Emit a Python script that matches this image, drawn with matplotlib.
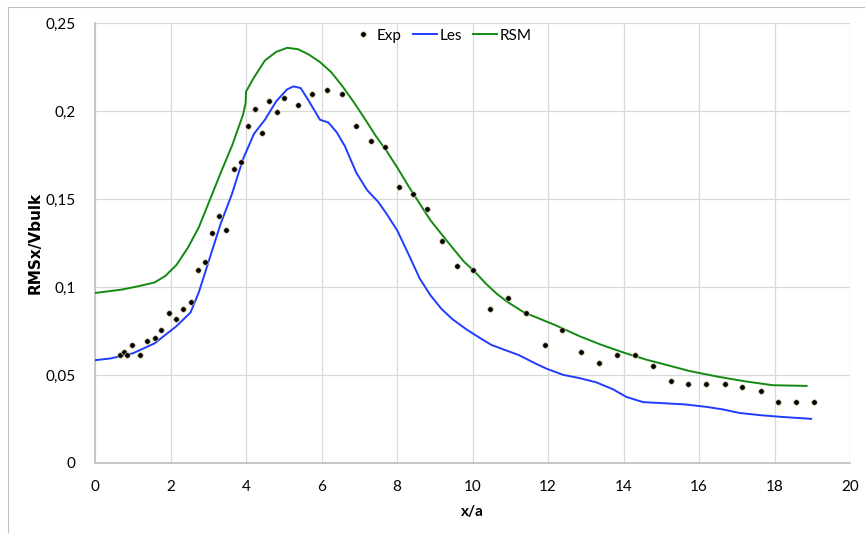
import matplotlib
matplotlib.use('Agg')
import matplotlib.pyplot as plt
from matplotlib.lines import Line2D
from matplotlib.ticker import FuncFormatter

# experimental points
exp_x = [0.67, 0.76, 0.86, 0.99, 1.20, 1.37, 1.58, 1.75, 1.96, 2.15, 2.34, 2.53,
         2.72, 2.91, 3.10, 3.29, 3.48, 3.67, 3.86, 4.05, 4.24, 4.43, 4.62, 4.81,
         5.00, 5.38, 5.76, 6.14, 6.54, 6.92, 7.30, 7.68, 8.06, 8.42, 8.80, 9.20,
         9.58, 10.0, 10.47, 10.95, 11.43, 11.92, 12.38, 12.87, 13.35, 13.82, 14.30,
         14.77, 15.25, 15.72, 16.18, 16.68, 17.15, 17.63, 18.10, 18.57, 19.05]
exp_y = [0.0611, 0.0631, 0.0611, 0.0673, 0.0611, 0.0693, 0.0712, 0.0755, 0.0855,
         0.0817, 0.0875, 0.0917, 0.1099, 0.1142, 0.1304, 0.1405, 0.1324, 0.1672,
         0.1711, 0.1914, 0.2014, 0.1875, 0.2057, 0.1995, 0.2076, 0.2036, 0.2096,
         0.2117, 0.2096, 0.1914, 0.1832, 0.1794, 0.1569, 0.1527, 0.1444, 0.1262,
         0.1118, 0.1099, 0.0875, 0.0937, 0.0855, 0.0673, 0.0755, 0.0631, 0.0571,
         0.0611, 0.0611, 0.0550, 0.0468, 0.0449, 0.0449, 0.0449, 0.0430, 0.0410,
         0.0346, 0.0346, 0.0346]

# LES
les_x = [0, 0.41, 1.0, 1.58, 2.16, 2.53, 2.75, 3.04, 3.33, 3.63, 3.92, 4.21, 4.5,
         4.8, 5.09, 5.26, 5.45, 5.67, 5.96, 6.18, 6.4, 6.62, 6.92, 7.21, 7.5, 7.72,
         8.01, 8.31, 8.6, 8.89, 9.18, 9.47, 9.84, 10.2, 10.5, 10.86, 11.23, 11.67,
         11.96, 12.4, 12.84, 13.27, 13.71, 14.08, 14.52, 15.03, 15.61, 16.2, 16.64,
         17.08, 17.66, 18.25, 18.97]
les_y = [0.0584, 0.0594, 0.0623, 0.068, 0.0778, 0.0855, 0.097, 0.1165, 0.136, 0.153,
         0.1726, 0.187, 0.195, 0.2055, 0.2123, 0.214, 0.213, 0.2055, 0.195, 0.1935,
         0.188, 0.180, 0.165, 0.155, 0.1484, 0.1417, 0.132, 0.1184, 0.1049, 0.0952,
         0.0875, 0.0817, 0.0759, 0.071, 0.0671, 0.0642, 0.0613, 0.0565, 0.0536,
         0.0501, 0.0482, 0.0459, 0.042, 0.0375, 0.0346, 0.034, 0.0333, 0.0319,
         0.0304, 0.0284, 0.0271, 0.0261, 0.0251]

# RSM
rsm_x = [0, 0.70, 1.14, 1.58, 1.87, 2.16, 2.46, 2.75, 3.04, 3.33, 3.63, 3.92, 3.99,
         4.0, 4.21, 4.5, 4.8, 5.09, 5.38, 5.67, 5.96, 6.26, 6.55, 6.84, 7.14, 7.43,
         7.72, 8.01, 8.31, 8.6, 8.89, 9.18, 9.47, 9.77, 10.06, 10.35, 10.64, 10.94,
         11.37, 11.81, 12.25, 12.84, 13.42, 14.01, 14.59, 15.18, 15.76, 16.49,
         17.22, 17.95, 18.85]
rsm_y = [0.0966, 0.0985, 0.1004, 0.1026, 0.1064, 0.1126, 0.1223, 0.1339, 0.1494,
         0.1649, 0.1803, 0.1978, 0.2045, 0.211, 0.219, 0.2287, 0.2336, 0.2359,
         0.2351, 0.232, 0.2278, 0.222, 0.2142, 0.2055, 0.1958, 0.1861, 0.1774,
         0.1678, 0.1571, 0.1474, 0.1378, 0.130, 0.1223, 0.1145, 0.1087, 0.102,
         0.0962, 0.0913, 0.0855, 0.0817, 0.0778, 0.072, 0.0671, 0.0627, 0.0588,
         0.0555, 0.0522, 0.0491, 0.0464, 0.0442, 0.0438]

x_ticks = list(range(0, 21, 2))
y_ticks = [0, 0.05, 0.1, 0.15, 0.2, 0.25]

plt.rcParams['font.family'] = ['Lato', 'DejaVu Sans']

fig = plt.figure(figsize=(8.65, 5.33), dpi=100)
# excel chart area border (only top and left visible)
fig.add_artist(Line2D([8/865, 8/865], [0, 1 - 7/533], color='#bfbfbf', lw=0.8))
fig.add_artist(Line2D([8/865, 1], [1 - 7/533, 1 - 7/533], color='#bfbfbf', lw=0.8))

ax = fig.add_axes([95/865, 1 - 463/533, (850 - 95)/865, (463 - 23)/533])

ax.plot(les_x, les_y, color='#1f3cff', lw=1.4, label='Les', zorder=3)
ax.plot(rsm_x, rsm_y, color='#128a12', lw=1.4, label='RSM', zorder=3)
ax.plot(exp_x, exp_y, 'o', color='black', markersize=4, markeredgecolor='#d8d0a0',
        markeredgewidth=0.5, label='Exp', zorder=4)

ax.set_xlim(0, 20)
ax.set_ylim(0, 0.25)
ax.set_xticks(x_ticks)
ax.set_yticks(y_ticks)
ax.yaxis.set_major_formatter(FuncFormatter(lambda v, p: ('%g' % v).replace('.', ',')))
ax.tick_params(length=0, labelsize=11, colors='black')
ax.tick_params(axis='x', pad=12)
ax.tick_params(axis='y', pad=14)
ax.grid(True, color='#d9d9d9', lw=0.9)
ax.set_axisbelow(True)
for s in ['top', 'right']:
    ax.spines[s].set_visible(False)
for s in ['left', 'bottom']:
    ax.spines[s].set_color('#bfbfbf')
    ax.spines[s].set_linewidth(1.2)

ax.set_xlabel('x/a', fontweight='bold', fontsize=11, labelpad=8)
ax.set_ylabel('RMSx/Vbulk', fontweight='bold', fontsize=11, labelpad=2,
              family=['DejaVu Sans'])

h, l = ax.get_legend_handles_labels()
order = [2, 0, 1]
ax.legend([h[i] for i in order], [l[i] for i in order], loc='upper center',
          bbox_to_anchor=(0.458, 1.008), ncol=3, frameon=False, fontsize=11,
          handlelength=1.6, handletextpad=0.15, columnspacing=0.7, borderpad=0.1)

fig.savefig('out.png', dpi=100)
